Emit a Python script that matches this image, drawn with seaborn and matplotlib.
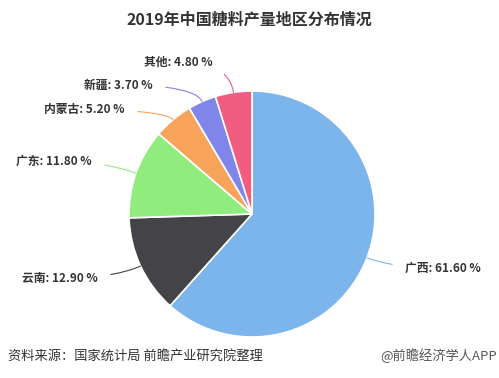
import matplotlib

matplotlib.use("Agg")
import matplotlib.pyplot as plt
import numpy as np
import seaborn as sns

regions = ["广西", "云南", "广东", "内蒙古", "新疆", "其他"]
shares = [61.60, 12.90, 11.80, 5.20, 3.70, 4.80]
colors = ["#7cb5ec", "#434348", "#90ed7d", "#f7a35c", "#8085e9", "#f15c80"]

# label anchor points in pixels (x, y from top) and alignment
label_pos = [(405, 268), (98, 278), (92, 161), (125, 110), (153, 85), (213, 62)]
label_ha = ["left", "right", "right", "right", "right", "right"]

sns.set_theme(style="white")
plt.rcParams["font.family"] = ["Noto Sans CJK SC", "DejaVu Sans"]

W, H = 499, 378
fig = plt.figure(figsize=(W / 100, H / 100), dpi=100)
ax = fig.add_axes([0, 0, 1, 1])

cx, cy, r = 252, H - 214, 123
wedges, _ = ax.pie(
    shares,
    colors=colors,
    startangle=90,
    counterclock=False,
    center=(cx, cy),
    radius=r,
    wedgeprops=dict(edgecolor="white", linewidth=1.2),
    frame=True,
)
ax.set_xlim(0, W)
ax.set_ylim(0, H)
ax.axis("off")

# labels with curved connectors: horizontal at the text, radial at the pie
for w, name, val, col, (lx, ly), ha in zip(wedges, regions, shares, colors, label_pos, label_ha):
    mid_deg = (w.theta1 + w.theta2) / 2
    mid = np.deg2rad(mid_deg)
    px, py = cx + r * np.cos(mid), cy + r * np.sin(mid)
    ax.annotate(
        f"{name}: {val:.2f} %",
        xy=(px, py),
        xytext=(lx, H - ly),
        ha=ha,
        va="center",
        fontsize=8.5,
        fontweight="bold",
        color="#333333",
        arrowprops=dict(
            arrowstyle="-", color=col, lw=0.8, shrinkA=7, shrinkB=0,
            connectionstyle=f"angle3,angleA=0,angleB={mid_deg:.1f}",
        ),
    )

fig.text(0.5, 1 - 20 / H, "2019年中国糖料产量地区分布情况", ha="center", va="center",
         fontsize=11.5, fontweight="bold", color="#333333")
fig.text(8 / W, 1 - 356 / H, "资料来源：国家统计局 前瞻产业研究院整理", ha="left", va="center",
         fontsize=9.5, color="#333333")
fig.text(497 / W, 1 - 356 / H, "@前瞻经济学人APP", ha="right", va="center",
         fontsize=9.5, color="#555555")

plt.savefig("out.png", dpi=100)
plt.close()
